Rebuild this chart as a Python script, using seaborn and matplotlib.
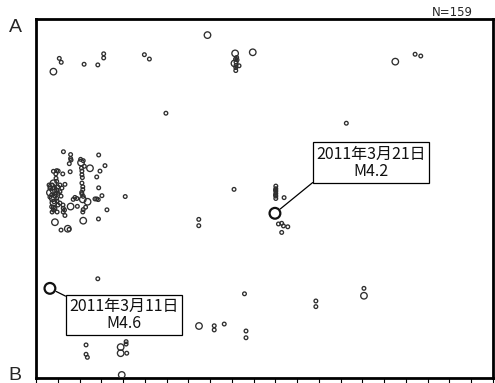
import numpy as np
import pandas as pd
import matplotlib
matplotlib.use("Agg")
import matplotlib.pyplot as plt
import seaborn as sns

# Hypocentre section: horizontal distance (km), position along A-B (km), magnitude class
dist_km = [
    0.80, 1.07, 1.16, 2.21, 2.84, 3.11, 3.11, 4.98, 5.21, 7.88, 5.97, 9.15, 9.22, 9.24, 9.12, 9.33,
    9.18, 9.18, 9.96, 16.51, 17.42, 17.68, 14.26,
    1.26, 1.59, 2.88, 1.59, 1.53, 2.05, 2.17, 2.07, 2.22, 2.48, 3.17, 0.80, 0.95, 1.02, 1.23, 1.57,
    2.11, 2.13, 2.94, 2.79, 0.91,
    0.92, 0.95, 0.80, 0.72, 0.64, 0.80, 0.64, 0.72, 0.95, 1.10, 1.02, 0.87, 0.77, 0.83, 0.95, 0.72,
    0.87, 0.80, 0.80, 0.80, 1.10, 1.01, 1.19, 0.60, 1.15, 0.97,
    1.33, 2.15, 2.15, 2.10, 2.88, 2.11, 2.17, 3.03, 4.10, 1.79, 1.71, 1.88, 2.15, 2.37, 2.71, 2.79,
    2.86, 1.59, 1.90, 1.25, 1.31, 1.25, 2.28, 2.17, 2.15, 3.26, 1.33, 0.87, 2.17, 2.87, 1.15, 1.46,
    1.52, 9.10, 7.48, 7.48,
    11.02, 11.02, 11.02, 11.02, 11.02, 11.02, 11.40, 10.98, 11.14, 11.29, 11.37, 11.57, 11.29,
    0.64, 2.84, 2.30, 2.30, 2.36, 4.14, 4.14, 3.89, 3.89, 4.17, 3.94, 7.49, 8.19, 8.19, 8.65, 9.58,
    9.65, 9.65, 12.86, 12.86, 15.07, 15.07,
    0.74, 0.83, 0.92, 0.64, 1.01, 1.10, 0.74, 0.97, 9.17, 9.19, 9.19, 2.09, 2.11, 1.24, 11.01,
    11.01, 1.61, 2.11,
]
along_km = [
    14.08, 14.69, 14.51, 14.42, 14.39, 14.90, 14.71, 14.86, 14.66, 15.76, 12.17, 14.92, 14.73, 14.62,
    14.46, 14.35, 14.27, 14.13, 14.97, 14.54, 14.88, 14.80, 11.71,
    10.40, 10.27, 10.25, 10.09, 9.85, 10.05, 9.99, 9.90, 9.73, 9.64, 9.76, 9.50, 9.53, 9.51, 9.38,
    9.48, 9.34, 9.21, 9.51, 9.24, 9.38,
    9.18, 9.04, 8.95, 8.79, 8.72, 8.64, 8.52, 8.41, 8.64, 8.56, 8.49, 8.36, 8.26, 8.10, 8.26, 7.87,
    7.80, 7.72, 8.06, 7.85, 8.87, 8.78, 8.73, 8.87, 8.36, 8.13,
    8.90, 8.79, 8.66, 8.53, 8.74, 8.46, 8.35, 8.38, 8.34, 8.30, 8.21, 8.25, 8.21, 8.10, 8.23, 8.23,
    8.20, 7.88, 7.89, 7.80, 7.72, 7.63, 7.85, 7.74, 7.63, 7.73, 7.47, 7.16, 7.23, 7.31, 6.80, 6.86,
    6.83, 8.67, 7.29, 7.00,
    8.82, 8.70, 8.59, 8.48, 8.36, 8.25, 8.29, 7.57, 7.08, 7.11, 6.99, 6.95, 6.69,
    4.12, 4.56, 1.52, 1.09, 0.95, 1.67, 1.56, 1.42, 1.14, 1.14, 0.14, 2.39, 2.40, 2.21, 2.48, 3.87,
    2.16, 1.85, 3.54, 3.28, 4.12, 3.78,
    8.87, 8.73, 8.50, 8.32, 7.95, 8.04, 7.63, 7.63, 14.66, 14.52, 14.36, 9.65, 9.51, 7.95, 8.64,
    8.41, 10.02, 8.96,
]
mag_class = [
    2, 1, 1, 1, 1, 1, 1, 1, 1, 2, 1, 2, 1, 1, 2, 1, 1, 1, 2, 2, 1, 1, 1,
    1, 1, 1, 1, 1, 1, 1, 2, 1, 2, 1, 1, 1, 1, 1, 1, 1, 1, 1, 1, 1,
    1, 1, 2, 2, 1, 2, 2, 1, 1, 1, 1, 1, 2, 1, 1, 1, 1, 1, 2, 1, 1, 1, 1, 1, 1, 1,
    1, 1, 1, 1, 1, 1, 1, 1, 1, 1, 1, 1, 2, 2, 1, 1, 1, 2, 1, 1, 1, 1, 1, 1, 1, 1,
    1, 2, 2, 1, 1, 2, 1, 1, 1, 1,
    1, 1, 1, 1, 1, 1, 1, 4.2, 1, 1, 1, 1, 1,
    4.6, 1, 1, 1, 1, 1, 1, 2, 2, 1, 2, 2, 1, 1, 1, 1, 1, 1, 1, 1, 1, 2,
    1, 1, 1, 1, 1, 1, 1, 1, 1, 1, 1, 1, 1, 1, 1, 1, 1, 1,
]

x_ticks = list(range(0, 22))
count_label = "N=159"
main_events = [
    {"date": "2011年3月21日", "mag": 4.2},
    {"date": "2011年3月11日", "mag": 4.6},
]

df = pd.DataFrame({"dist": dist_km, "along": along_km, "mag": mag_class})
minor = df[df["mag"] < 4]
major = df[df["mag"] >= 4]

sns.set_style("white")
plt.rcParams["font.family"] = ["Noto Sans CJK JP", "DejaVu Sans"]

fig = plt.figure(figsize=(4.95, 3.83), dpi=100)
ax = fig.add_axes([36 / 495, 5 / 383, 457 / 495, 359 / 383])

edge = "#2e2e2e"
sns.scatterplot(data=minor, x="dist", y="along", size="mag", sizes={1: 7, 2: 22},
                marker="o", facecolors="none", edgecolor=edge, linewidth=0.95,
                legend=False, ax=ax, zorder=3)
sns.scatterplot(data=major, x="dist", y="along", s=60, marker="o",
                facecolors="none", edgecolor="#111111", linewidth=1.6,
                legend=False, ax=ax, zorder=4)

ax.set_xlim(0, 21)
ax.set_ylim(0, 16.5)
ax.set_xticks(x_ticks)
ax.set_xticklabels([])
ax.set_yticks([])
ax.set_xlabel("")
ax.set_ylabel("")
ax.tick_params(axis="x", direction="out", length=4, width=0.8, color="black", bottom=True)
for sp in ax.spines.values():
    sp.set_visible(True)
    sp.set_color("black")
    sp.set_linewidth(2.0)

# callouts for the two largest events
box_centres = {4.2: (15.40, 9.90), 4.6: (4.04, 2.90)}
corner = {4.2: (0, 0), 4.6: (0, 1)}
for ev in main_events:
    row = major[major["mag"] == ev["mag"]].iloc[0]
    ax.annotate(f"{ev['date']}\nM{ev['mag']}", xy=(row["dist"], row["along"]),
                xytext=box_centres[ev["mag"]], textcoords="data",
                ha="center", va="center", fontsize=11.5, linespacing=1.0,
                family=["Noto Sans CJK JP", "DejaVu Sans"], color="#111111",
                bbox=dict(boxstyle="square,pad=0.2", fc="white", ec="black", lw=0.9),
                arrowprops=dict(arrowstyle="-", color="black", lw=0.9,
                                relpos=corner[ev["mag"]], shrinkA=0, shrinkB=5),
                zorder=5)

fig.text(15 / 495, 1 - 28 / 383, "A", fontsize=14, family=["Liberation Sans"],
         ha="center", va="center")
fig.text(15 / 495, 1 - 375 / 383, "B", fontsize=14, family=["Liberation Sans"],
         ha="center", va="center")
fig.text(473 / 495, 1 - 13 / 383, count_label, fontsize=8.5, family=["DejaVu Sans"],
         ha="right", va="center")

fig.savefig("out.png", dpi=100, facecolor="white")
